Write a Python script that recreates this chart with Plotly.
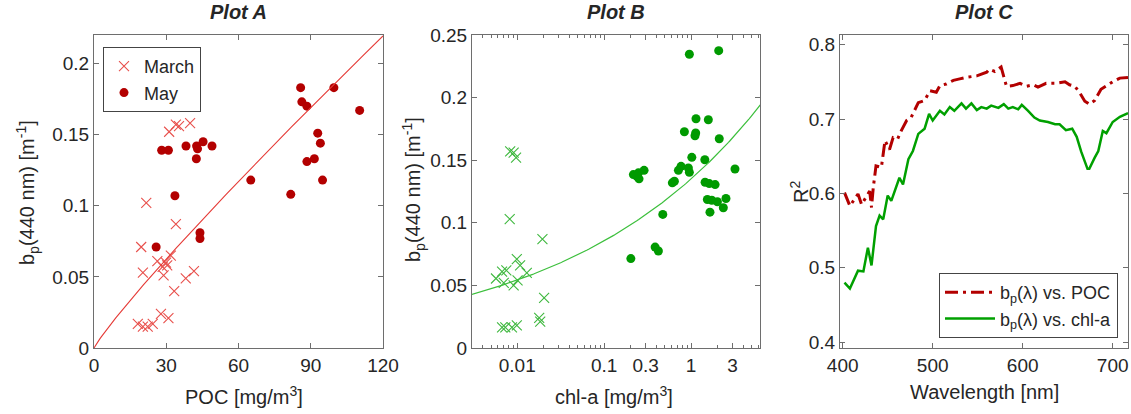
import numpy as np
import plotly.graph_objects as go

# ---------------- Plot A data (POC vs bp440) ----------------
march_poc = [31.2, 34.0, 35.3, 39.9, 21.7, 34.0, 19.6, 26.3, 29.9, 31.9, 28.5, 30.4,
             20.3, 28.9, 38.1, 41.5, 33.3, 27.8, 30.9, 18.2, 20.3, 22.3, 24.4]
march_bp_a = [0.152, 0.157, 0.156, 0.158, 0.102, 0.087, 0.071, 0.061, 0.060, 0.065, 0.057, 0.058,
              0.053, 0.051, 0.049, 0.054, 0.040, 0.024, 0.021, 0.017, 0.015, 0.015, 0.017]
may_poc = [28.1, 30.9, 38.2, 42.6, 43.0, 45.3, 49.0, 42.5, 33.6, 25.8, 44.0, 44.0,
           65.1, 81.7, 85.8, 86.3, 88.4, 99.6, 110.3, 92.9, 94.0, 91.5, 88.4, 94.9]
may_bp_a = [0.139, 0.139, 0.142, 0.142, 0.140, 0.145, 0.142, 0.133, 0.107, 0.071, 0.081, 0.077,
            0.118, 0.108, 0.183, 0.173, 0.170, 0.183, 0.167, 0.151, 0.144, 0.133, 0.131, 0.118]
# power-law fit bp = a * POC^b
fit_a_coef, fit_a_exp = 0.00288, 0.905

# ---------------- Plot B data (chl-a vs bp440) ----------------
march_chl = [0.0083, 0.0091, 0.0097, 0.0082, 0.0195, 0.0057, 0.0067, 0.0075, 0.0070, 0.0091, 0.0101,
             0.0099, 0.0108, 0.0129, 0.0204, 0.0179, 0.0184, 0.0067, 0.0073, 0.0087, 0.0099]
march_bp_b = [0.157, 0.156, 0.152, 0.103, 0.087, 0.0555, 0.061, 0.062, 0.052, 0.050, 0.054,
              0.071, 0.066, 0.060, 0.040, 0.024, 0.021, 0.0165, 0.0165, 0.0165, 0.018]
may_chl = [0.956, 2.08, 1.14, 1.58, 0.838, 1.13, 1.11, 2.11, 1.02, 1.44, 3.2, 0.767,
           0.715, 0.931, 0.956, 0.643, 0.609, 1.45, 1.62, 1.89, 0.217, 0.248, 0.288, 0.238,
           0.252, 1.54, 1.73, 2.01, 2.52, 2.35, 1.65, 0.473, 0.386, 0.421, 0.203]
may_bp_b = [0.2346, 0.2375, 0.1831, 0.1823, 0.1727, 0.1717, 0.1695, 0.1671, 0.1523, 0.1504, 0.143, 0.1451,
            0.1419, 0.1438, 0.1403, 0.1332, 0.1319, 0.1324, 0.1313, 0.1305, 0.1385, 0.1399, 0.1419, 0.1372,
            0.1351, 0.1186, 0.118, 0.1168, 0.1194, 0.112, 0.1085, 0.1067, 0.0806, 0.0775, 0.0714]
fit_b_coef, fit_b_exp = 0.135, 0.198

# ---------------- Plot C data (R^2 spectra) ----------------
poc_wl = [402, 408, 413, 417, 421, 426, 430, 432, 434, 437, 443, 447, 452, 456, 461, 465, 471, 476,
          484, 491, 497, 504, 508, 515, 523, 530, 537, 549, 560, 563, 569, 576, 582, 589, 597, 604,
          612, 617, 626, 637, 647, 652, 658, 663, 669, 674, 680, 687, 693, 700, 708, 717]
poc_r2 = [0.601, 0.583, 0.592, 0.599, 0.585, 0.596, 0.603, 0.581, 0.608, 0.637, 0.635, 0.671, 0.659,
          0.675, 0.673, 0.684, 0.698, 0.702, 0.722, 0.725, 0.738, 0.736, 0.745, 0.747, 0.752, 0.754,
          0.756, 0.758, 0.763, 0.767, 0.764, 0.770, 0.744, 0.745, 0.748, 0.744, 0.746, 0.743, 0.748,
          0.748, 0.750, 0.746, 0.744, 0.736, 0.724, 0.720, 0.725, 0.740, 0.745, 0.750, 0.755, 0.756]
chl_wl = [402, 408, 417, 423, 428, 432, 437, 441, 445, 450, 454, 463, 467, 473, 478, 484, 491, 496,
          500, 508, 513, 519, 524, 532, 537, 543, 549, 554, 560, 565, 573, 579, 584, 589, 595, 599,
          606, 613, 619, 628, 636, 641, 648, 655, 660, 665, 672, 674, 680, 684, 689, 693, 700, 708, 717]
chl_r2 = [0.480, 0.472, 0.496, 0.495, 0.527, 0.503, 0.556, 0.570, 0.565, 0.597, 0.590, 0.621, 0.612,
          0.646, 0.657, 0.680, 0.687, 0.707, 0.698, 0.711, 0.706, 0.716, 0.711, 0.721, 0.714, 0.721,
          0.712, 0.716, 0.714, 0.718, 0.715, 0.720, 0.714, 0.716, 0.713, 0.719, 0.711, 0.702, 0.698,
          0.696, 0.693, 0.693, 0.685, 0.687, 0.676, 0.656, 0.633, 0.633, 0.648, 0.657, 0.684, 0.681,
          0.696, 0.703, 0.708]

W, H = 1131, 414
FONT = "Liberation Sans, Arial, Helvetica, sans-serif"
TXT = "#262626"
AXC = "#6e6e6e"

def px_x(p):
    return p / W

def px_y(p):
    return 1 - p / H

dom_y = [px_y(348), px_y(35)]
dom_a = [px_x(94), px_x(383)]
dom_b = [px_x(472), px_x(760)]
dom_c = [px_x(840), px_x(1128)]

RED_DARK = "#b30000"
RED_LIGHT = "#e8504c"
GREEN_DARK = "#009a00"
GREEN_LIGHT = "#3fb83f"

fig = go.Figure()

# Plot A
fig.add_trace(go.Scatter(x=march_poc, y=march_bp_a, mode="markers", name="March",
                         marker=dict(symbol="x-thin", size=10, line=dict(width=1.1, color=RED_LIGHT), color=RED_LIGHT),
                         xaxis="x", yaxis="y", legend="legend"))
fig.add_trace(go.Scatter(x=may_poc, y=may_bp_a, mode="markers", name="May",
                         marker=dict(symbol="circle", size=9, color=RED_DARK),
                         xaxis="x", yaxis="y", legend="legend"))
xa = np.linspace(0.0, 120.0, 200)
fig.add_trace(go.Scatter(x=xa, y=fit_a_coef * xa ** fit_a_exp, mode="lines", showlegend=False,
                         line=dict(color="#e53a36", width=1.1), xaxis="x", yaxis="y"))

# Plot B
fig.add_trace(go.Scatter(x=march_chl, y=march_bp_b, mode="markers", showlegend=False,
                         marker=dict(symbol="x-thin", size=10, line=dict(width=1.1, color=GREEN_LIGHT), color=GREEN_LIGHT),
                         xaxis="x2", yaxis="y2"))
fig.add_trace(go.Scatter(x=may_chl, y=may_bp_b, mode="markers", showlegend=False,
                         marker=dict(symbol="circle", size=9, color=GREEN_DARK),
                         xaxis="x2", yaxis="y2"))
xb = np.logspace(-2.55, 0.82, 200)
fig.add_trace(go.Scatter(x=xb, y=fit_b_coef * xb ** fit_b_exp, mode="lines", showlegend=False,
                         line=dict(color="#3cbf3c", width=1.2), xaxis="x2", yaxis="y2"))

# Plot C
fig.add_trace(go.Scatter(x=poc_wl, y=poc_r2, mode="lines", name="b<sub>p</sub>(λ) vs. POC",
                         line=dict(color=RED_DARK, width=3, dash="13px,5px,3px,5px"),
                         xaxis="x3", yaxis="y3", legend="legend2"))
fig.add_trace(go.Scatter(x=chl_wl, y=chl_r2, mode="lines", name="b<sub>p</sub>(λ) vs. chl-a",
                         line=dict(color="#00a000", width=2.5),
                         xaxis="x3", yaxis="y3", legend="legend2"))

axis_common = dict(showline=True, linecolor=AXC, linewidth=1, mirror="ticks", ticks="inside",
                   ticklen=5, tickcolor=AXC, showgrid=False, zeroline=False, automargin=False,
                   tickfont=dict(family=FONT, size=19, color=TXT))

minor_b = [0.004, 0.005, 0.006, 0.007, 0.008, 0.009, 0.02, 0.03, 0.04, 0.05, 0.06, 0.07, 0.08, 0.09,
           0.2, 0.4, 0.5, 0.6, 0.7, 0.8, 0.9, 2, 4, 5, 6]

fig.update_layout(
    width=W, height=H, margin=dict(l=0, r=0, t=0, b=0, autoexpand=False),
    paper_bgcolor="white", plot_bgcolor="white",
    font=dict(family=FONT, size=19, color=TXT),
    xaxis=dict(axis_common, domain=dom_a, range=[0, 120], tickvals=[0, 30, 60, 90, 120], anchor="y"),
    yaxis=dict(axis_common, domain=dom_y, range=[0, 0.22], tickvals=[0, 0.05, 0.1, 0.15, 0.2],
               ticktext=["0", "0.05", "0.1", "0.15", "0.2"], anchor="x"),
    xaxis2=dict(axis_common, domain=dom_b, type="log", range=[-2.52, 0.793],
                tickvals=[0.01, 0.1, 0.3, 1, 3], ticktext=["0.01", "0.1", "0.3", "1", "3"], anchor="y2",
                minor=dict(tickmode="array", tickvals=minor_b, ticks="inside", ticklen=3, tickcolor=AXC)),
    yaxis2=dict(axis_common, domain=dom_y, range=[0, 0.25], tickvals=[0, 0.05, 0.1, 0.15, 0.2, 0.25],
                ticktext=["0", "0.05", "0.1", "0.15", "0.2", "0.25"], anchor="x2"),
    xaxis3=dict(axis_common, domain=dom_c, range=[397, 717], tickvals=[400, 500, 600, 700], anchor="y3"),
    yaxis3=dict(axis_common, domain=dom_y, range=[0.392, 0.813], tickvals=[0.4, 0.5, 0.6, 0.7, 0.8],
                ticktext=["0.4", "0.5", "0.6", "0.7", "0.8"], anchor="x3"),
    legend=dict(x=px_x(103), y=px_y(47), xanchor="left", yanchor="top", bgcolor="white",
                bordercolor="#444", borderwidth=1, font=dict(family=FONT, size=18, color=TXT),
                tracegroupgap=0, itemwidth=30),
    legend2=dict(x=px_x(939), y=px_y(273), xanchor="left", yanchor="top", bgcolor="white",
                 bordercolor="#444", borderwidth=1, font=dict(family=FONT, size=18, color=TXT),
                 tracegroupgap=0, itemwidth=50),
)

annots = [
    dict(text="<b><i>Plot A</i></b>", x=(dom_a[0] + dom_a[1]) / 2, y=px_y(12), size=20),
    dict(text="<b><i>Plot B</i></b>", x=(dom_b[0] + dom_b[1]) / 2, y=px_y(12), size=20),
    dict(text="<b><i>Plot C</i></b>", x=(dom_c[0] + dom_c[1]) / 2, y=px_y(12), size=20),
    dict(text="POC [mg/m<sup>3</sup>]", x=px_x(244), y=px_y(395), size=20),
    dict(text="chl-a [mg/m<sup>3</sup>]", x=px_x(614), y=px_y(395), size=20),
    dict(text="Wavelength [nm]", x=px_x(984), y=px_y(392), size=20),
    dict(text="b<sub>p</sub>(440 nm) [m<sup>-1</sup>]", x=px_x(27), y=px_y(193), textangle=-90, size=20),
    dict(text="b<sub>p</sub>(440 nm) [m<sup>-1</sup>]", x=px_x(413), y=px_y(190), textangle=-90, size=20),
    dict(text="R<sup>2</sup>", x=px_x(799), y=px_y(192), textangle=-90, size=20),
]
for a in annots:
    sz = a.pop("size")
    fig.add_annotation(xref="paper", yref="paper", showarrow=False, xanchor="center", yanchor="middle",
                       font=dict(family=FONT, size=sz, color=TXT), **a)

fig.write_html("out.html")
